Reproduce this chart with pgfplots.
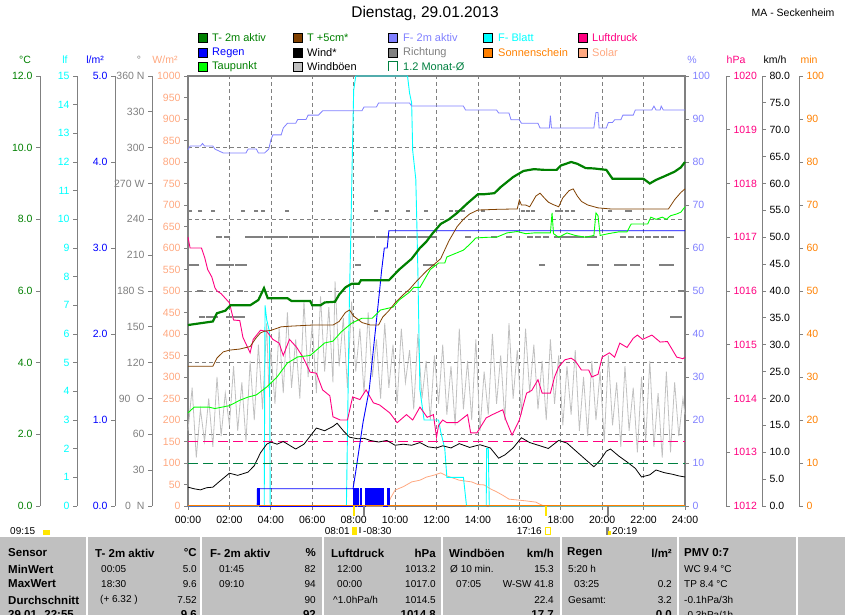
\documentclass[border=0pt]{standalone}
\usepackage{fontspec}
\setmainfont{Liberation Sans}
\usepackage{pgfplots}
\pgfplotsset{compat=1.18}
\definecolor{cT}{RGB}{0,128,0}
\definecolor{cT5}{RGB}{128,64,0}
\definecolor{cTau}{RGB}{0,255,0}
\definecolor{cRegen}{RGB}{0,0,255}
\definecolor{cF}{RGB}{128,128,255}
\definecolor{cBlatt}{RGB}{0,255,255}
\definecolor{cLuft}{RGB}{255,0,128}
\definecolor{cSonne}{RGB}{255,128,0}
\definecolor{cSolar}{RGB}{255,168,128}
\definecolor{cBoe}{RGB}{192,192,192}
\definecolor{axgray}{RGB}{128,128,128}
\definecolor{cMonat}{RGB}{0,128,64}
\definecolor{tabgray}{RGB}{192,192,192}
\definecolor{sunyel}{RGB}{255,230,0}
\pgfplotsset{
  base/.style={scale only axis, width=497pt, height=430pt, anchor=south west, xmin=0, xmax=24,
    scaled y ticks=false, /pgf/number format/assume math mode=true, /pgf/number format/1000 sep={},
    ticklabel style={font=\fontsize{10.5}{12}\selectfont}},
  dataax/.style={base, at={(188pt,109pt)}, axis lines=none, clip=false, ticks=none},
  scaleax/.style={base, axis x line=none, tick align=outside, major tick length=4pt,
    axis line style={draw=axgray, line width=0.8pt}, tick style={draw=axgray, line width=0.8pt}},
  scaleL/.style={scaleax, axis y line*=left},
  scaleR/.style={scaleax, axis y line*=right},
  onedec/.style={yticklabel style={/pgf/number format/fixed, /pgf/number format/fixed zerofill, /pgf/number format/precision=1}},
}
\newcommand{\tb}{\fontsize{11.5}{13}\bfseries}
\begin{document}
\begin{tikzpicture}[x=1pt,y=1pt]
\path[use as bounding box] (0pt,0pt) rectangle (845pt,615pt);
% ---------- table background
\fill[tabgray] (0pt,0pt) rectangle (845pt,78pt);
\foreach \xx in {87,201,323,442,561,678,797} {\draw[white, line width=1.3pt] (\xx pt,0pt) -- (\xx pt,78pt);}

% ---------- frame + grid
\begin{axis}[base, at={(188pt,109pt)}, ymin=0, ymax=12,
  axis line style={draw=axgray, line width=2.4pt},
  xtick={0,2,...,24}, xticklabels={00:00,02:00,04:00,06:00,08:00,10:00,12:00,14:00,16:00,18:00,20:00,22:00,24:00},
  xticklabel style={yshift=-3pt},
  xtick pos=bottom, tick align=outside, major tick length=4pt,
  ytick={2,4,6,8,10}, yticklabels={}, ytick style={draw=none},
  xtick style={draw=axgray, line width=0.8pt},
  xmajorgrids, ymajorgrids, grid style={draw=axgray, line width=0.6pt, dash pattern=on 4pt off 3pt}]
\end{axis}

% ---------- scale axes (left)
\begin{axis}[scaleL, onedec, at={(40pt,109pt)}, ymin=0, ymax=12, ytick={0,2,...,12}, yticklabel style={text=cT}]
\end{axis}
\begin{axis}[scaleL, at={(77pt,109pt)}, ymin=0, ymax=15, ytick={0,1,...,15}, yticklabel style={text=cBlatt}]
\end{axis}
\begin{axis}[scaleL, onedec, at={(115pt,109pt)}, ymin=0, ymax=5, ytick={0,1,...,5}, yticklabel style={text=cRegen}]
\end{axis}
\begin{axis}[scaleL, at={(152pt,109pt)}, ymin=0, ymax=360, ytick={0,30,...,360},
  yticklabels={0\ \ N,30,60,90\ \ O,120,150,180 S,210,240,270 W,300,330,360 N}, yticklabel style={text=axgray}]
\end{axis}
\begin{axis}[scaleL, at={(188pt,109pt)}, ymin=0, ymax=1000, ytick={0,50,...,1000}, yticklabel style={text=cSolar}, axis line style={draw=none}]
\end{axis}
% ---------- scale axes (right)
\begin{axis}[scaleR, at={(188pt,109pt)}, ymin=0, ymax=100, ytick={0,10,...,100}, yticklabel style={text=cF}, axis line style={draw=none}]
\end{axis}
\begin{axis}[scaleR, at={(229pt,109pt)}, ymin=1012, ymax=1020, ytick={1012,1013,...,1020}, yticklabel style={text=cLuft}]
\end{axis}
\begin{axis}[scaleR, onedec, at={(265pt,109pt)}, ymin=0, ymax=80, ytick={0,5,...,80}, yticklabel style={text=black}]
\end{axis}
\begin{axis}[scaleR, at={(302pt,109pt)}, ymin=0, ymax=100, ytick={0,10,...,100}, yticklabel style={text=cSonne}]
\end{axis}

% ---------- Richtung (deg)
\begin{axis}[dataax, ymin=0, ymax=360]
\addplot[only marks, mark=-, mark size=2pt, mark options={draw=axgray, line width=2pt}] coordinates {
(0.1,247)(0.6,247)(1.2,247)(2.65,247)(3.3,247)(3.6,247)(4.8,247)(9.1,247)(9.6,247)(10.6,247)(11.5,247)
(12.7,247)(13.0,247)(13.3,247)(14.25,247)(16.2,247)(16.4,247)(16.65,247)(17.8,247)(18.0,247)(18.3,247)(18.6,247)
(20.4,247)(21.2,247)(21.35,247)
(20.9,202)(21.1,202)(19.55,202)
};
\addplot[only marks, mark=-, mark size=3pt, mark options={draw=axgray, line width=2.2pt}] coordinates {
(1.5,225)(1.9,225)(2.9,225)(3.2,225)(3.5,225)(3.8,225)(4.1,225)(4.4,225)(4.7,225)(5.0,225)(5.3,225)(5.6,225)
(5.9,225)(6.2,225)(6.5,225)(6.8,225)(7.1,225)(7.4,225)(7.7,225)(8.0,225)(8.3,225)(8.6,225)(8.9,225)(9.2,225)
(9.5,225)(9.8,225)(10.1,225)(10.4,225)(10.7,225)(11.0,225)(11.3,225)(11.6,225)(11.9,225)(13.5,225)(14.8,225)
(15.5,225)(16.5,225)(16.9,225)(17.3,225)(17.8,225)(18.1,225)(18.4,225)(18.7,225)(19.0,225)(19.3,225)(19.6,225)
(21.0,225)(21.4,225)(21.8,225)(22.2,225)(22.6,225)(23.0,225)(23.3,225)
(0.1,202)(0.4,202)(1.5,202)(1.8,202)(2.1,202)(2.4,202)(2.7,202)(8.2,202)(11.5,202)(11.8,202)(17.1,202)
(19.4,202)(19.7,202)(20.7,202)(21.5,202)(21.7,202)(22.9,202)(23.1,202)(23.3,202)
(0.7,158)(1.0,158)(1.3,158)(2.0,158)(2.3,158)(2.6,158)(23.4,158)(23.7,158)(0.6,180)(2.5,180)(23.8,180)
};
\end{axis}

% ---------- Windboeen (km/h)
\begin{axis}[dataax, ymin=0, ymax=80]
\addplot[cBoe, line width=0.8pt] coordinates {
(0.0,14)(0.2,22)(0.4,9)(0.6,18)(0.8,12)(1.0,20)(1.2,11)(1.4,24)(1.6,13)(1.8,21)(2.0,15)(2.2,26)(2.4,14)(2.6,23)
(2.8,12)(3.0,27)(3.2,16)(3.4,30)(3.6,18)(3.8,34)(3.9,22)(4.0,29)(4.2,19)(4.4,33)(4.6,21)(4.8,36)(5.0,22)(5.2,31)
(5.4,20)(5.6,38)(5.8,24)(6.0,34)(6.2,21)(6.4,39)(6.6,25)(6.8,37)(7.0,23)(7.1,41.8)(7.3,26)(7.5,35)(7.7,22)(7.9,38)
(8.1,25)(8.3,33)(8.5,21)(8.7,36)(8.9,24)(9.1,31)(9.3,20)(9.5,34)(9.7,22)(9.9,30)(10.1,19)(10.3,33)(10.5,23)(10.7,29)
(10.9,18)(11.1,32)(11.3,20)(11.5,27)(11.7,16)(11.9,28)(12.1,19)(12.3,30)(12.5,17)(12.7,26)(12.9,15)(13.1,33)(13.3,18)
(13.5,27)(13.7,16)(13.9,31)(14.1,14)(14.3,25)(14.5,17)(14.7,32)(14.9,19)(15.1,28)(15.3,16)(15.5,34)(15.7,20)(15.9,29)
(16.1,17)(16.3,33)(16.5,21)(16.7,30)(16.9,18)(17.1,27)(17.3,16)(17.5,31)(17.7,19)(17.9,28)(18.1,15)(18.3,26)(18.5,17)
(18.7,29)(18.9,14)(19.1,24)(19.3,13)(19.5,27)(19.7,16)(19.9,25)(20.1,12)(20.3,28)(20.5,15)(20.7,23)(20.9,11)(21.1,26)
(21.3,14)(21.5,22)(21.7,10)(21.9,24)(22.1,12)(22.3,27)(22.5,11)(22.7,21)(22.9,9)(23.1,25)(23.3,10)(23.5,23)(23.7,13)
(23.9,20)(24.0,17)
};
\end{axis}

% ---------- Solar (W/m2)
\begin{axis}[dataax, ymin=0, ymax=1000]
\addplot[cSolar, line width=0.8pt] coordinates {
(0,0)(9.6,0)(9.8,20)(10.0,37)(10.4,45)(10.8,56)(11.2,60)(11.5,67)(11.9,72)(12.2,77)(12.5,70)(12.8,65)(13.1,60)
(13.4,58)(13.7,56)(14.0,50)(14.3,49)(14.6,40)(14.9,33)(15.2,25)(15.5,16)(15.9,14)(16.3,12)(16.8,9)(17.0,4)(17.2,0)(24,0)
};
\end{axis}

% ---------- F-Blatt (lf)
\begin{axis}[dataax, ymin=0, ymax=15]
\addplot[cBlatt, line width=0.9pt] coordinates {
(0,0)(3.68,0)(3.72,7.0)(3.8,6.5)(3.93,6.1)(3.97,0)(7.65,0)(7.8,7.5)(7.85,9)(7.92,11.7)(8.0,14.5)(8.1,15)
(10.6,15)(10.7,14.4)(10.8,14.06)(10.85,12.4)(11.0,11.4)(11.05,9.87)(11.1,8.2)(11.2,4.05)(11.4,3.0)(12.1,3.0)
(12.2,2.6)(12.4,2.0)(12.5,1.0)(13.3,1.0)(13.45,0)(14.4,0)(14.42,2.0)(14.5,2.0)(14.55,0)(24,0)
};
\end{axis}

% ---------- F- 2m aktiv (%)
\begin{axis}[dataax, ymin=0, ymax=100]
\addplot[cF, line width=0.8pt] coordinates {
(0,82.8)(0.1,83.7)(0.6,83.7)(0.7,84.3)(0.8,83.7)(1.2,83.7)(1.3,83)(1.7,82.1)(2.8,82.1)(2.9,83)(3.3,83)(3.4,82.1)
(3.7,82.1)(3.9,83)(4.0,85.1)(4.1,86.3)(4.5,86.3)(4.6,87.9)(4.8,89)(5.2,89)(5.3,89.9)(5.7,89.9)(5.8,90.9)(6.3,90.9)
(6.5,91.9)(8.4,91.9)(8.5,92.8)(9.1,92.8)(9.2,93.7)(10.7,93.7)(10.8,93)(13.3,93)(13.4,92.1)(14.9,92.1)(15.0,91.4)
(15.5,91.4)(15.6,89.8)(16.0,89.8)(16.1,89)(16.9,89)(17.0,87.9)(17.45,87.9)(17.5,90.8)(17.55,87.9)(19.6,87.9)
(19.7,91.5)(19.8,91.5)(19.85,87.9)(20.2,87.9)(20.3,89.2)(20.5,89.2)(20.6,89.8)(20.9,89.8)(21.0,90.9)(21.5,90.9)
(21.6,92.1)(22.4,92.1)(22.5,93)(22.6,92.1)(22.8,92.1)(22.85,93)(22.95,92.1)(24,92.1)
};
\end{axis}

% ---------- Luftdruck (hPa)
\begin{axis}[dataax, ymin=1012, ymax=1020]
\addplot[cLuft, line width=0.9pt, dash pattern=on 10pt off 5pt] coordinates {(0,1013.21)(24,1013.21)};
\addplot[cLuft, line width=0.9pt] coordinates {
(0,1017.0)(0.1,1016.8)(0.65,1016.8)(0.8,1016.63)(0.95,1016.4)(1.15,1016.26)(1.3,1016.06)(1.4,1016.0)(1.6,1015.95)
(2.0,1015.78)(2.2,1015.46)(2.5,1015.45)(2.65,1015.14)(3.0,1014.85)(3.15,1015.1)(3.5,1015.27)(3.8,1015.25)(4.1,1015.1)
(4.4,1015.03)(4.6,1014.8)(4.9,1015.1)(5.25,1014.95)(5.55,1014.77)(5.9,1014.49)(6.2,1014.47)(6.5,1014.16)(6.85,1014.05)
(7.0,1013.66)(7.35,1013.6)(7.7,1013.6)(7.95,1014.03)(8.3,1013.98)(8.6,1014.16)(8.95,1013.92)(9.25,1013.88)(9.75,1013.73)
(10.1,1013.55)(10.55,1013.7)(10.85,1013.6)(11.2,1013.84)(11.55,1013.65)(11.85,1013.7)(12.0,1013.28)(12.1,1013.5)
(12.3,1013.6)(12.5,1013.55)(13.0,1013.55)(13.5,1013.7)(13.65,1013.36)(13.95,1013.36)(14.4,1013.64)(14.7,1013.7)
(15.2,1013.79)(15.35,1013.6)(15.65,1013.32)(16.0,1013.6)(16.35,1014.1)(16.6,1014.15)(16.9,1014.35)(17.1,1014.1)
(17.5,1014.1)(17.7,1014.4)(17.9,1014.59)(18.2,1014.72)(18.5,1014.75)(18.7,1014.7)(19.0,1014.53)(19.35,1014.53)
(19.5,1014.4)(19.8,1014.45)(20.0,1014.77)(20.35,1014.85)(20.6,1014.77)(20.85,1015.03)(21.2,1014.95)(21.5,1015.12)
(21.7,1015.18)(21.95,1015.1)(22.4,1015.18)(22.8,1015.05)(23.15,1015.06)(23.6,1014.77)(23.9,1014.74)(24,1014.77)
};
\end{axis}

% ---------- Wind (km/h)
\begin{axis}[dataax, ymin=0, ymax=80]
\addplot[black, line width=0.8pt] coordinates {
(0,3.5)(0.3,3.2)(0.6,3.0)(0.9,3.4)(1.2,3.5)(1.5,4.5)(2.0,6.1)(2.4,5.7)(2.9,6.3)(3.2,7.5)(3.5,9.9)(3.8,11.5)(4.0,11.9)
(4.3,11.5)(4.6,12.0)(4.9,11.3)(5.2,10.6)(5.6,11.5)(6.0,13.5)(6.2,14.5)(6.6,14.0)(7.0,14.8)(7.2,15.4)(7.5,14.0)(7.8,12.8)
(8.2,12.5)(8.5,12.6)(8.8,12.2)(9.2,11.9)(9.6,12.2)(10.0,11.3)(10.4,11.5)(10.8,11.3)(11.2,11.8)(11.6,11.0)(12.0,10.8)
(12.3,11.2)(12.7,10.8)(13.1,11.6)(13.6,10.9)(14.1,11.4)(14.6,10.8)(15.0,8.9)(15.3,9.5)(15.7,10.8)(16.1,12.7)(16.5,11.8)
(17.0,11.2)(17.4,10.7)(17.9,12.2)(18.3,11.7)(18.8,10.0)(19.3,8.3)(19.6,7.3)(19.9,8.5)(20.2,10.2)(20.4,10.6)(20.8,9.3)
(21.2,8.2)(21.6,7.0)(21.9,5.4)(22.3,5.8)(22.6,6.7)(23.0,6.2)(23.4,5.9)(23.7,5.6)(24,5.4)
};
\end{axis}

% ---------- Regen (l/m2)
\begin{axis}[dataax, ymin=0, ymax=5]
\addplot[fill=cRegen, draw=cRegen, line width=0.6pt] coordinates {
(3.33,0)(3.33,0.2)(3.43,0.2)(3.43,0)(7.97,0)(7.97,0.2)(8.06,0.2)(8.06,0)(8.15,0)(8.15,0.2)(8.21,0.2)(8.21,0)
(8.3,0)(8.3,0.2)(8.38,0.2)(8.38,0)(8.55,0)(8.55,0.2)(9.42,0.2)(9.42,0)(9.62,0)(9.62,0.2)(9.7,0.2)(9.7,0)
};
\addplot[cRegen, line width=0.9pt] coordinates {
(0,0)(3.35,0)(3.37,0.2)(7.97,0.2)(8.1,0.4)(8.45,0.97)(8.75,1.35)(9.0,1.93)(9.25,2.5)(9.35,2.74)(9.48,3.0)(9.62,3.0)
(9.7,3.2)(24,3.2)
};
\end{axis}

% ---------- Temperatures (degC)
\begin{axis}[dataax, ymin=0, ymax=12]
\addplot[cMonat, line width=0.9pt, dash pattern=on 10pt off 5pt] coordinates {(0,1.2)(24,1.2)};
\addplot[cTau, line width=0.9pt] coordinates {
(0,2.6)(0.3,2.76)(1.0,2.76)(1.3,2.72)(2.0,2.8)(2.5,2.95)(2.9,3.04)(3.3,3.1)(3.8,3.32)(4.3,3.6)(4.8,3.99)(5.3,4.16)
(5.9,4.2)(6.3,4.4)(6.6,4.55)(7.0,4.6)(7.4,4.86)(7.9,5.1)(8.4,5.24)(8.9,5.24)(9.3,5.47)(9.9,5.55)(10.2,5.75)(10.7,5.97)
(10.9,6.1)(11.2,6.1)(11.7,6.6)(12.1,6.78)(12.4,6.78)(12.5,6.95)(13.3,7.14)(13.6,7.3)(13.9,7.48)(14.5,7.5)(14.9,7.5)
(15.4,7.62)(15.9,7.66)(16.3,7.6)(16.7,7.62)(17.3,7.62)(17.5,7.62)(17.58,8.18)(17.65,7.6)(17.9,7.5)(18.3,7.62)(18.7,7.55)
(19.2,7.5)(19.6,7.55)(19.7,8.18)(19.8,8.1)(19.9,7.55)(20.3,7.6)(20.8,7.65)(21.2,7.65)(21.4,7.87)(22.2,7.87)(22.35,8.06)
(22.6,8.0)(22.9,8.06)(23.1,8.0)(23.3,8.1)(23.6,8.15)(23.8,8.2)(24,8.35)
};
\addplot[cT5, line width=0.8pt] coordinates {
(0,3.9)(1.2,3.9)(1.4,4.13)(1.7,4.3)(2.0,4.35)(2.5,4.38)(3.0,4.45)(3.3,4.7)(3.5,4.83)(3.7,4.88)(4.0,4.9)(4.5,5.0)
(5.0,5.02)(6.0,5.05)(7.0,5.05)(7.3,5.15)(7.6,5.4)(7.8,5.47)(8.0,5.3)(8.4,5.12)(8.8,5.05)(9.2,5.05)(9.4,5.27)(9.7,5.45)
(10.0,5.67)(10.4,5.9)(10.7,6.05)(11.0,6.25)(11.5,6.55)(11.9,6.75)(12.2,6.9)(12.6,7.4)(13.0,7.8)(13.3,8.0)(13.6,8.15)
(14.0,8.26)(15.0,8.28)(15.9,8.29)(16.0,8.54)(16.1,8.4)(16.3,8.4)(16.5,8.35)(16.8,8.65)(17.0,8.73)(17.2,8.6)(17.4,8.48)
(17.6,8.42)(17.9,8.35)(18.1,8.6)(18.4,8.8)(18.6,8.85)(18.8,8.65)(19.0,8.5)(19.3,8.4)(19.8,8.32)(20.4,8.29)(23.2,8.29)
(23.5,8.55)(23.8,8.75)(24,8.85)
};
\addplot[cT, line width=2.2pt] coordinates {
(0,5.05)(0.6,5.1)(1.2,5.15)(1.4,5.38)(1.8,5.45)(2.05,5.6)(3.0,5.6)(3.4,5.75)(3.67,6.08)(3.85,5.8)(4.0,5.8)(4.8,5.8)
(5.0,5.72)(5.9,5.72)(6.0,5.6)(6.4,5.6)(6.6,5.68)(7.1,5.7)(7.3,5.9)(7.6,6.1)(7.9,6.2)(8.25,6.2)(8.35,6.3)(9.7,6.3)
(10.2,6.6)(10.5,6.75)(10.8,6.9)(11.2,7.2)(11.5,7.37)(11.8,7.6)(12.2,7.87)(12.6,8.0)(13.0,8.18)(13.5,8.45)(14.0,8.7)
(14.3,8.7)(14.8,8.73)(15.1,8.9)(15.7,9.18)(16.2,9.35)(16.7,9.4)(17.2,9.38)(17.8,9.38)(18.0,9.5)(18.5,9.6)(18.8,9.55)
(19.2,9.43)(19.6,9.42)(20.2,9.38)(20.5,9.13)(22.0,9.13)(22.3,9.0)(22.6,9.1)(23.0,9.2)(23.5,9.33)(23.8,9.45)(24,9.6)
};
\end{axis}

% ---------- Sonnenschein (min)
\begin{axis}[dataax, ymin=0, ymax=100]
\addplot[cSonne, line width=1pt] coordinates {(0,0)(24,0)};
\end{axis}

% ---------- marks below axis (sunrise/sunset etc.)
\draw[sunyel, line width=2.5pt] (354pt,109pt) -- (354pt,99pt);
\draw[sunyel, line width=2.5pt] (546pt,109pt) -- (546pt,99pt);
\draw[axgray, line width=2.5pt] (364pt,109pt) -- (364pt,99pt);
\draw[axgray, line width=2.5pt] (608pt,109pt) -- (608pt,99pt);

% ---------- titles
\node[font=\fontsize{15.5}{18}\selectfont] at (425pt,601pt) {Dienstag, 29.01.2013};
\node[anchor=east, font=\fontsize{10.5}{12}\selectfont] at (838pt,602pt) {MA - Seckenheim};

% ---------- unit labels
\begin{scope}[every node/.style={font=\fontsize{10.5}{12}\selectfont}]
\node[text=cT] at (25pt,555pt) {°C};
\node[text=cBlatt] at (65pt,555pt) {lf};
\node[text=cRegen] at (95pt,555pt) {l/m²};
\node[text=axgray] at (139pt,555pt) {°};
\node[text=cSolar] at (165pt,555pt) {W/m²};
\node[text=cF] at (692pt,555pt) {\%};
\node[text=cLuft] at (736pt,555pt) {hPa};
\node[text=black] at (775pt,555pt) {km/h};
\node[text=cSonne] at (809pt,555pt) {min};
\end{scope}

% ---------- legend
\begin{scope}[every node/.style={font=\fontsize{11}{12}\selectfont, anchor=west, inner sep=0pt}]
\draw[black, fill=cT] (198pt,573pt) rectangle +(9pt,9pt); \node[text=cT] at (212pt,577.5pt) {T- 2m aktiv};
\draw[black, fill=cRegen] (198pt,558pt) rectangle +(9pt,9pt); \node[text=cRegen] at (212pt,562.5pt) {Regen};
\draw[black, fill=cTau] (198pt,544pt) rectangle +(9pt,9pt); \node[text=cT] at (212pt,548.5pt) {Taupunkt};
\draw[black, fill=cT5] (293pt,573pt) rectangle +(9pt,9pt); \node[text=cT] at (307pt,577.5pt) {T +5cm*};
\draw[black, fill=black] (293pt,558pt) rectangle +(9pt,9pt); \node[text=black] at (307pt,562.5pt) {Wind*};
\draw[black, fill=cBoe] (293pt,544pt) rectangle +(9pt,9pt); \node[text=black] at (307pt,548.5pt) {Windböen};
\draw[black, fill=cF] (388pt,573pt) rectangle +(9pt,9pt); \node[text=cF] at (403pt,577.5pt) {F- 2m aktiv};
\draw[black, fill=axgray] (388pt,558pt) rectangle +(9pt,9pt); \node[text=axgray] at (403pt,562.5pt) {Richtung};
\draw[cMonat, line width=1pt] (388pt,544pt) -- (388pt,553pt) -- (397pt,553pt) -- (397pt,544pt); \node[text=cMonat] at (403pt,548.5pt) {1.2 Monat-Ø};
\draw[black, fill=cBlatt] (483pt,573pt) rectangle +(9pt,9pt); \node[text=cBlatt] at (498pt,577.5pt) {F- Blatt};
\draw[black, fill=cSonne] (483pt,558pt) rectangle +(9pt,9pt); \node[text=cSonne] at (498pt,562.5pt) {Sonnenschein};
\draw[black, fill=cLuft] (578pt,573pt) rectangle +(9pt,9pt); \node[text=cLuft] at (592pt,577.5pt) {Luftdruck};
\draw[black, fill=cSolar] (578pt,558pt) rectangle +(9pt,9pt); \node[text=cSolar] at (592pt,562.5pt) {Solar};
\end{scope}

% ---------- sun row
\begin{scope}[every node/.style={font=\fontsize{10}{11}\selectfont, inner sep=0pt}]
\node[anchor=west] at (10pt,84pt) {09:15};
\fill[sunyel] (43pt,80pt) rectangle (50pt,85pt);
\node[anchor=east] at (350pt,84pt) {08:01};
\fill[sunyel] (352pt,80pt) rectangle (357pt,88pt);
\fill[axgray] (359pt,82pt) rectangle (361pt,88pt);
\node[anchor=west] at (363pt,84pt) {-08:30};
\node[anchor=east] at (542pt,84pt) {17:16};
\draw[sunyel, line width=1pt] (545pt,80pt) rectangle (550pt,87pt);
\fill[axgray] (606pt,80pt) rectangle (609pt,88pt);
\fill[sunyel] (608pt,80pt) rectangle (611pt,84pt);
\node[anchor=west] at (612pt,84pt) {20:19};
\end{scope}

% ---------- table text
\begin{scope}[every node/.style={font=\fontsize{10}{12}\selectfont, inner sep=0pt}]
\node[anchor=west, font=\tb] at (8pt,62pt) {Sensor};
\node[anchor=west, font=\tb] at (8pt,46pt) {MinWert};
\node[anchor=west, font=\tb] at (8pt,31pt) {MaxWert};
\node[anchor=west, font=\tb] at (8pt,15pt) {Durchschnitt};
\node[anchor=west, font=\tb] at (8pt,0pt) {29.01. 22:55};
% col1
\node[anchor=west, font=\tb] at (95pt,62pt) {T- 2m aktiv};
\node[anchor=east, font=\tb] at (197pt,62pt) {°C};
\node[anchor=west] at (101pt,46pt) {00:05}; \node[anchor=east] at (197pt,46pt) {5.0};
\node[anchor=west] at (101pt,31pt) {18:30}; \node[anchor=east] at (197pt,31pt) {9.6};
\node[anchor=west] at (100pt,15pt) {(+ 6.32 )}; \node[anchor=east] at (197pt,15pt) {7.52};
\node[anchor=east, font=\tb] at (197pt,0pt) {9.6};
% col2
\node[anchor=west, font=\tb] at (210pt,62pt) {F- 2m aktiv};
\node[anchor=east, font=\tb] at (316pt,62pt) {\%};
\node[anchor=west] at (219pt,46pt) {01:45}; \node[anchor=east] at (316pt,46pt) {82};
\node[anchor=west] at (219pt,31pt) {09:10}; \node[anchor=east] at (316pt,31pt) {94};
\node[anchor=east] at (316pt,15pt) {90};
\node[anchor=east, font=\tb] at (316pt,0pt) {92};
% col3
\node[anchor=west, font=\tb] at (331pt,62pt) {Luftdruck};
\node[anchor=east, font=\tb] at (436pt,62pt) {hPa};
\node[anchor=west] at (337pt,46pt) {12:00}; \node[anchor=east] at (436pt,46pt) {1013.2};
\node[anchor=west] at (337pt,31pt) {00:00}; \node[anchor=east] at (436pt,31pt) {1017.0};
\node[anchor=west] at (333pt,15pt) {\textasciicircum 1.0hPa/h}; \node[anchor=east] at (436pt,15pt) {1014.5};
\node[anchor=east, font=\tb] at (436pt,0pt) {1014.8};
% col4
\node[anchor=west, font=\tb] at (449pt,62pt) {Windböen};
\node[anchor=east, font=\tb] at (554pt,62pt) {km/h};
\node[anchor=west] at (450pt,46pt) {Ø 10 min.}; \node[anchor=east] at (554pt,46pt) {15.3};
\node[anchor=west] at (456pt,31pt) {07:05}; \node[anchor=east] at (554pt,31pt) {W-SW 41.8};
\node[anchor=east] at (554pt,15pt) {22.4};
\node[anchor=east, font=\tb] at (554pt,0pt) {17.7};
% col5
\node[anchor=west, font=\tb] at (567pt,62pt) {Regen};
\node[anchor=east, font=\tb] at (672pt,62pt) {l/m²};
\node[anchor=west] at (568pt,46pt) {5:20 h};
\node[anchor=west] at (574pt,31pt) {03:25}; \node[anchor=east] at (672pt,31pt) {0.2};
\node[anchor=west] at (568pt,15pt) {Gesamt:}; \node[anchor=east] at (672pt,15pt) {3.2};
\node[anchor=east, font=\tb] at (672pt,0pt) {0.0};
% col6
\node[anchor=west, font=\tb] at (684pt,62pt) {PMV 0:7};
\node[anchor=west] at (684pt,46pt) {WC 9.4 °C};
\node[anchor=west] at (684pt,31pt) {TP 8.4 °C};
\node[anchor=west] at (684pt,15pt) {-0.1hPa/3h};
\node[anchor=west] at (684pt,0pt) {-0.3hPa/1h};
\end{scope}
\end{tikzpicture}
\end{document}
